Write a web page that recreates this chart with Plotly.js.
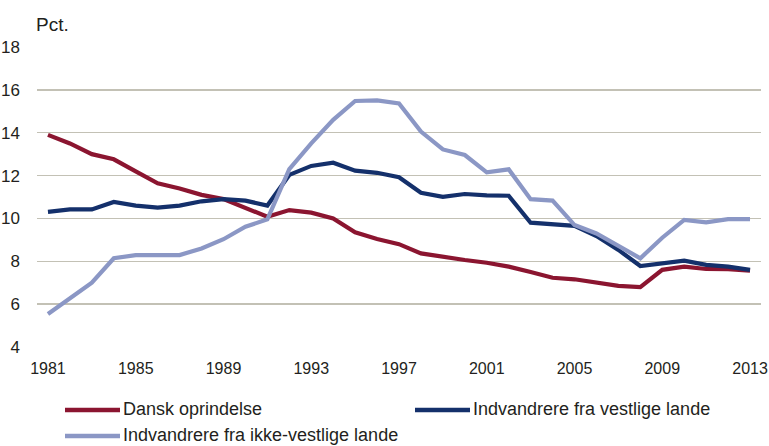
<!DOCTYPE html>
<html>
<head>
<meta charset="utf-8">
<script src="https://cdn.plot.ly/plotly-3.0.1.min.js"></script>
<style>html,body{margin:0;padding:0;background:#fff;}#chart{width:769px;height:446px;}</style>
</head>
<body>
<div id="chart"></div>
<script>
const years = [1981,1982,1983,1984,1985,1986,1987,1988,1989,1990,1991,1992,1993,1994,1995,1996,1997,1998,1999,2000,2001,2002,2003,2004,2005,2006,2007,2008,2009,2010,2011,2012,2013];
const dansk = [13.9,13.5,13.0,12.76,12.2,11.64,11.4,11.1,10.9,10.5,10.08,10.39,10.27,10.0,9.35,9.04,8.8,8.37,8.19,8.06,7.93,7.75,7.5,7.23,7.16,7.0,6.85,6.79,7.6,7.75,7.64,7.63,7.56];
const vestlige = [10.31,10.42,10.42,10.77,10.6,10.5,10.6,10.8,10.9,10.83,10.6,12.03,12.45,12.6,12.23,12.13,11.92,11.2,11.01,11.14,11.08,11.06,9.8,9.74,9.65,9.18,8.53,7.78,7.93,8.03,7.83,7.75,7.6];
const ikkeVestlige = [5.54,6.27,7.0,8.14,8.29,8.29,8.29,8.6,9.03,9.61,9.96,12.3,13.5,14.6,15.48,15.51,15.37,14.05,13.22,12.96,12.15,12.29,10.9,10.83,9.69,9.3,8.71,8.14,9.1,9.93,9.82,9.97,9.97];
const seriesNames = ["Dansk oprindelse","Indvandrere fra vestlige lande","Indvandrere fra ikke-vestlige lande"];
const seriesColors = ["#8B1530","#14306B","#8B97C5"];
const xTicks = [1981,1985,1989,1993,1997,2001,2005,2009,2013];
const yTicks = [4,6,8,10,12,14,16,18];
const yUnit = "Pct.";

const FONT = "Liberation Sans, Arial, sans-serif";
const TXT = '#231F20';
const data = [dansk, vestlige, ikkeVestlige].map((v,i)=>({
  x: years, y: v, type: 'scatter', mode: 'lines', name: seriesNames[i],
  line: {color: seriesColors[i], width: 4.2}, showlegend: false
}));

// custom legend (pixel positions converted to paper coords)
const L = 37, R = 761, T = 47, B = 347;
const px = p => (p - L) / (R - L);
const py = p => (B - p) / (B - T);
const legendPos = [[65, 410], [415, 410], [65, 436]];
const shapes = [], annotations = [];
legendPos.forEach(([x, y], i) => {
  shapes.push({type: 'line', xref: 'paper', yref: 'paper', x0: px(x), x1: px(x + 55), y0: py(y), y1: py(y),
    line: {color: seriesColors[i], width: 4.5}});
  annotations.push({text: seriesNames[i], xref: 'paper', yref: 'paper', x: px(x + 56), y: py(y - 1),
    xanchor: 'left', yanchor: 'middle', showarrow: false, font: {family: FONT, size: 18, color: TXT}});
});
annotations.push({text: yUnit, xref: 'paper', yref: 'paper', x: 0, y: 1, xanchor: 'left', yanchor: 'bottom',
  yshift: 10, xshift: -3, showarrow: false, font: {family: FONT, size: 19, color: TXT}});

const layout = {
  width: 769, height: 446,
  margin: {l: L, r: 769 - R, t: T, b: 446 - B},
  paper_bgcolor: '#fff', plot_bgcolor: '#fff',
  font: {family: FONT, size: 17, color: TXT},
  showlegend: false,
  xaxis: {range: [1980.5, 2013.5], tickvals: xTicks, ticktext: xTicks.map(String),
    tickfont: {family: FONT, size: 16, color: TXT},
    showgrid: false, zeroline: false, showline: false, ticks: '', ticklabelstandoff: 10,
    ticklabeloverflow: 'allow', automargin: false, fixedrange: true},
  yaxis: {range: [4, 18], tickvals: yTicks, ticktext: yTicks.map(String),
    tickfont: {family: FONT, size: 17, color: TXT},
    showgrid: true, gridcolor: '#C3C1B5', gridwidth: 1.3, zeroline: false, showline: false, ticks: '',
    ticklabelstandoff: 16, automargin: false, fixedrange: true},
  shapes: shapes,
  annotations: annotations
};
Plotly.newPlot('chart', data, layout, {displayModeBar: false, staticPlot: true});
</script>
</body>
</html>
